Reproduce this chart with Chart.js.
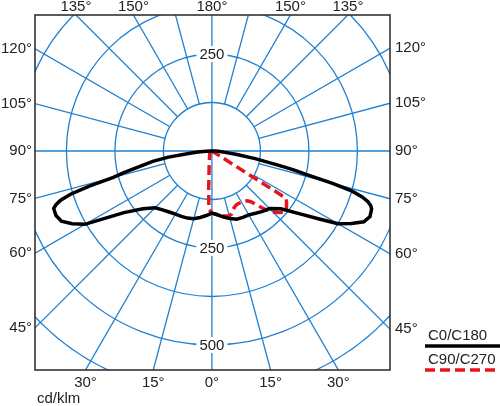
<!DOCTYPE html>
<html>
<head>
<meta charset="utf-8">
<script src="https://cdn.jsdelivr.net/npm/chart.js@4.4.0/dist/chart.umd.min.js"></script>
<style>
  html, body { margin: 0; padding: 0; background: #fff; }
  #wrap { width: 500px; height: 406px; position: relative; }
</style>
</head>
<body>
<div id="wrap"><canvas id="lightChart"></canvas></div>
<script>
// gamma angles (deg from nadir) and intensities in cd/klm
const gammaAngles = [0, 5, 10, 15, 20, 25, 30, 35, 40, 45, 50, 55, 57.5, 60, 62.5, 65, 67.5, 70, 71, 72, 73, 74, 75, 76, 77, 78, 80, 82, 84, 86, 88, 90];
const c180Values = [160, 167, 174, 181, 184, 186, 188, 192, 198, 207, 232, 277, 320, 378, 406, 428, 435, 434, 425, 410, 381, 327, 263, 237, 211, 188, 155, 113, 57, 36, 15, 0];
const c0Values = [160, 165, 173, 180, 187, 189, 190, 196, 203, 210, 232, 286, 325, 375, 405, 432, 441, 438, 433, 423, 405, 376, 322, 250, 214, 172, 113, 62, 34, 21, 10, 0];

const c90Angles = [0, 5, 10, 15, 17.5, 20, 22.5, 25, 30, 35, 37.5, 40, 42.5, 45, 47.5, 50, 52.5, 55, 57.5, 60, 90];
const c90Values = [160, 165, 170, 173, 170, 160, 155, 152, 152, 157, 165, 183, 206, 222, 235, 245, 242, 235, 227, 0, 0];
const c270Angles = [0, 3, 5, 10, 20, 45, 90];
const c270Values = [160, 150, 95, 41, 18, 8, 0];

const ringValues = [125, 250, 375, 500, 625];
const ringLabelsDown = [250, 500];
const ringLabelsUp = [250];
const topTickAngles = [135, 150, 180];
const sideTickAngles = [45, 60, 75, 90, 105, 120];
const bottomTickAngles = [0, 15, 30];

const gridColor = '#1f80d2';
const font = '15px "Liberation Sans", Arial, sans-serif';

function toRad(d) { return d * Math.PI / 180; }

// left half goes from 90 down to 0, right half from 0 up to 90
function buildCurve(leftAngles, leftValues, rightAngles, rightValues) {
  const pts = [];
  for (let i = leftAngles.length - 1; i >= 0; i--) {
    const t = toRad(leftAngles[i]);
    pts.push({ x: -leftValues[i] * Math.sin(t), y: -leftValues[i] * Math.cos(t) });
  }
  for (let i = 0; i < rightAngles.length; i++) {
    const t = toRad(rightAngles[i]);
    pts.push({ x: rightValues[i] * Math.sin(t), y: -rightValues[i] * Math.cos(t) });
  }
  return pts;
}

const polarGrid = {
  id: 'polarGrid',
  beforeDatasetsDraw(chart) {
    const { ctx, chartArea: a, scales: { x, y } } = chart;
    const cx = x.getPixelForValue(0), cy = y.getPixelForValue(0);
    const px = v => x.getPixelForValue(v) - cx;
    ctx.save();
    ctx.beginPath();
    ctx.rect(a.left, a.top, a.right - a.left, a.bottom - a.top);
    ctx.clip();
    ctx.strokeStyle = gridColor;
    ctx.lineWidth = 1.3;
    ringValues.forEach(v => {
      ctx.beginPath();
      ctx.arc(cx, cy, px(v), 0, Math.PI * 2);
      ctx.stroke();
    });
    const inner = px(ringValues[0]), outer = px(1500);
    for (let g = 0; g < 360; g += 15) {
      const t = toRad(g);
      const r0 = g % 90 === 0 ? 0 : inner;
      ctx.beginPath();
      ctx.moveTo(cx + r0 * Math.sin(t), cy + r0 * Math.cos(t));
      ctx.lineTo(cx + outer * Math.sin(t), cy + outer * Math.cos(t));
      ctx.stroke();
    }
    ctx.font = font;
    ctx.textAlign = 'center';
    ctx.textBaseline = 'middle';
    const drawValue = (v, py) => {
      const w = ctx.measureText(String(v)).width + 6;
      ctx.fillStyle = '#fff';
      ctx.fillRect(cx - w / 2, py - 8, w, 16);
      ctx.fillStyle = '#222';
      ctx.fillText(String(v), cx, py + 1);
    };
    ringLabelsDown.forEach(v => drawValue(v, y.getPixelForValue(-v)));
    ringLabelsUp.forEach(v => drawValue(v, y.getPixelForValue(v)));
    ctx.restore();
  },
  afterDraw(chart) {
    const { ctx, chartArea: a, scales: { x, y } } = chart;
    ctx.save();
    ctx.strokeStyle = '#333';
    ctx.lineWidth = 1.6;
    ctx.strokeRect(a.left, a.top, a.right - a.left, a.bottom - a.top);

    ctx.font = font;
    ctx.fillStyle = '#222';
    ctx.textBaseline = 'middle';
    // side ticks
    sideTickAngles.forEach(g => {
      const t = toRad(g);
      ctx.textAlign = 'right';
      ctx.fillText(g + '°', a.left - 3, y.getPixelForValue(x.min * Math.cos(t) / Math.sin(t)));
      ctx.textAlign = 'left';
      ctx.fillText(g + '°', a.right + 5, y.getPixelForValue(-x.max * Math.cos(t) / Math.sin(t)));
    });
    ctx.textAlign = 'center';
    bottomTickAngles.forEach(g => {
      const off = -y.min * Math.tan(toRad(g));
      ctx.fillText(g + '°', x.getPixelForValue(-off), a.bottom + 13);
      if (g !== 0) ctx.fillText(g + '°', x.getPixelForValue(off), a.bottom + 13);
    });
    topTickAngles.forEach(g => {
      const off = y.max * Math.tan(toRad(180 - g));
      ctx.fillText(g + '°', x.getPixelForValue(-off), a.top - 8);
      if (g !== 180) ctx.fillText(g + '°', x.getPixelForValue(off), a.top - 8);
    });
    ctx.textAlign = 'left';
    ctx.fillText('cd/klm', a.left + 2, a.bottom + 29);

    // legend: label text with line sample underneath
    chart.data.datasets.forEach((ds, i) => {
      const ty = 336 + i * 24;
      ctx.fillStyle = '#222';
      ctx.fillText(ds.label, 428, ty);
      ctx.beginPath();
      ctx.strokeStyle = ds.borderColor;
      ctx.lineWidth = ds.borderWidth;
      ctx.setLineDash(ds.borderDash || []);
      ctx.moveTo(425, ty + 10);
      ctx.lineTo(500, ty + 10);
      ctx.stroke();
    });
    ctx.restore();
  }
};

new Chart(document.getElementById('lightChart'), {
  type: 'scatter',
  data: {
    datasets: [
      {
        label: 'C0/C180',
        data: buildCurve(gammaAngles, c180Values, gammaAngles, c0Values),
        showLine: true,
        borderColor: '#000',
        borderWidth: 3.5,
        pointRadius: 0,
        tension: 0,
        order: 1
      },
      {
        label: 'C90/C270',
        data: buildCurve(c270Angles, c270Values, c90Angles, c90Values),
        showLine: true,
        borderColor: '#e8141b',
        borderWidth: 3.5,
        borderDash: [10, 5],
        pointRadius: 0,
        tension: 0,
        order: 2
      }
    ]
  },
  options: {
    responsive: true,
    maintainAspectRatio: false,
    animation: false,
    layout: { padding: { left: 35, top: 15, right: 110, bottom: 36 } },
    scales: {
      x: { type: 'linear', min: -456, max: 459, display: false },
      y: { type: 'linear', min: -564.5, max: 350.5, display: false }
    },
    plugins: { legend: { display: false }, tooltip: { enabled: false } }
  },
  plugins: [polarGrid]
});
</script>
</body>
</html>
